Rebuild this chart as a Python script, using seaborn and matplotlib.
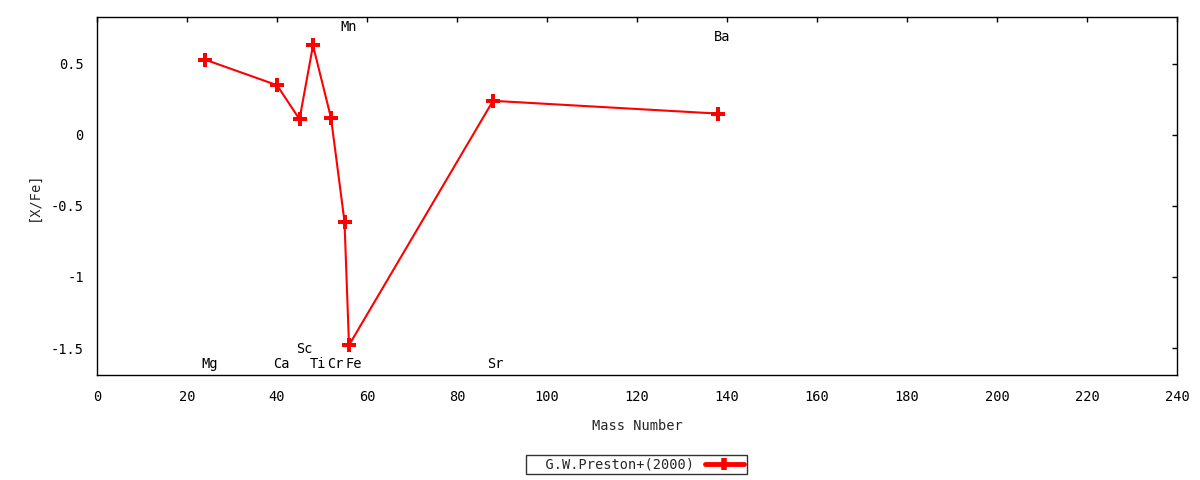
import matplotlib
matplotlib.use("Agg")
import matplotlib.pyplot as plt
import seaborn as sns
import pandas as pd
from matplotlib.lines import Line2D

elements = ["Mg", "Ca", "Sc", "Ti", "Cr", "Mn", "Fe", "Sr", "Ba"]
mass = [24, 40, 45, 48, 52, 55, 56, 88, 138]
xfe = [0.53, 0.35, 0.11, 0.63, 0.12, -0.61, -1.48, 0.24, 0.15]
label_x = [25.0, 41.0, 46.0, 49.0, 53.0, 56.0, 57.0, 88.5, 139.0]
label_y = [-1.61, -1.61, -1.51, -1.61, -1.61, 0.76, -1.61, -1.61, 0.69]
series_name = "G.W.Preston+(2000)"

sns.set_style("white")
plt.rcParams['font.family'] = ['DejaVu Sans Mono', 'DejaVu Sans']
FS = 9.8
plt.rcParams['font.size'] = FS

df = pd.DataFrame({"mass": mass, "xfe": xfe})

fig = plt.figure(figsize=(12, 4.8), dpi=100)
ax = fig.add_axes([97/1200, 1-375/480, (1177-97)/1200, (375-17)/480])

sns.lineplot(data=df, x="mass", y="xfe", ax=ax, color="red", linewidth=1.5,
             marker="P", markersize=9.5, markeredgewidth=0, sort=False)

for el, lx, ly in zip(elements, label_x, label_y):
    ax.text(lx, ly, el, ha="center", va="center", fontsize=FS, color="black")

ax.set_xlim(0, 240)
ax.set_ylim(-1.69, 0.83)
ax.set_xticks(range(0, 241, 20))
ax.set_yticks([0.5, 0, -0.5, -1, -1.5])
ax.set_yticklabels(["0.5", "0", "-0.5", "-1", "-1.5"])
ax.tick_params(direction="in", top=True, right=True, length=3.4, width=1,
               labelsize=FS, colors="black", pad=9.5)
ax.tick_params(axis="x", pad=11)
for s in ax.spines.values():
    s.set_color("black")
    s.set_linewidth(1)
ax.set_xlabel("Mass Number", labelpad=10.5)
ax.set_ylabel("[X/Fe]", labelpad=7)

leg = fig.legend([Line2D([0, 1, 2], [0, 0, 0], color="red", linewidth=3.5,
                         marker="|", markersize=9, markeredgewidth=4)],
                 ["  " + series_name], loc="center", bbox_to_anchor=(636.5/1200, 1-464.5/480),
                 frameon=True, fancybox=False, markerfirst=False, handlelength=2.9,
                 borderpad=0.2, handletextpad=0.8, borderaxespad=0, fontsize=FS)
leg.get_frame().set_edgecolor("black")
leg.get_frame().set_linewidth(1)

fig.savefig("out.png", dpi=100)
